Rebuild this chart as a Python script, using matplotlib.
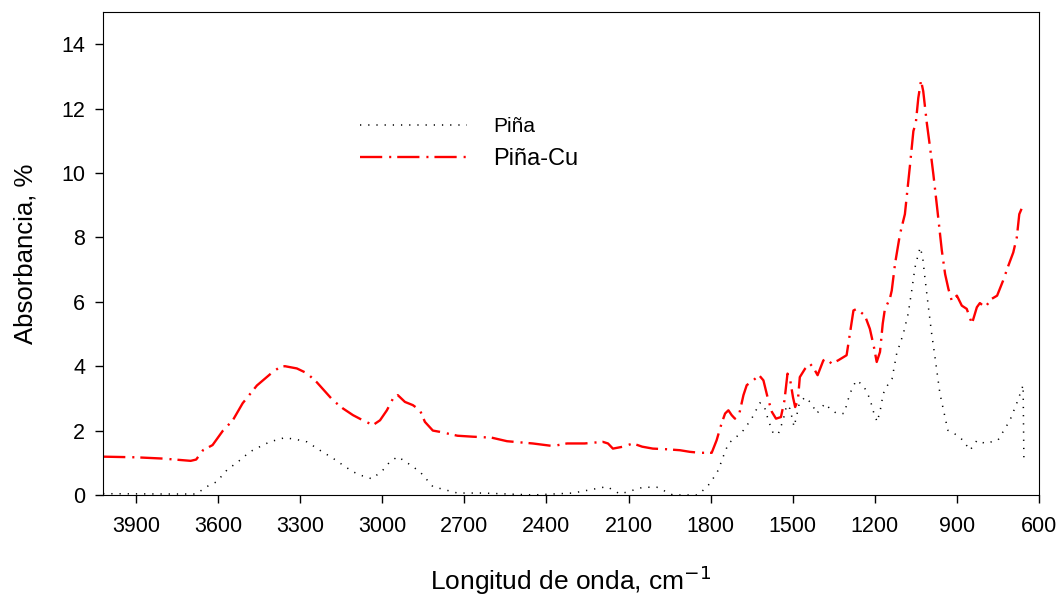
import matplotlib.pyplot as plt
import numpy as np

plt.rcParams['font.family'] = ['Liberation Sans', 'DejaVu Sans']
plt.rcParams['lines.scale_dashes'] = False

# FTIR spectra, wavenumber (cm-1) vs absorbance
wn_cu = [4020, 3900, 3800, 3700, 3680, 3655, 3620, 3582, 3546, 3510, 3458, 3436,
         3400, 3374, 3356, 3312, 3275, 3239, 3180, 3144, 3107, 3071, 3034, 3008,
         2983, 2961, 2943, 2917, 2888, 2862, 2844, 2815, 2789, 2725, 2669, 2600,
         2544, 2450, 2376, 2325, 2260, 2194, 2175, 2157, 2120, 2084, 2050, 2011,
         1960, 1912, 1876, 1839, 1796, 1778, 1760, 1747, 1735, 1723, 1711, 1695,
         1680, 1668, 1644, 1623, 1607, 1592, 1576, 1561, 1543, 1530, 1519, 1509,
         1499, 1491, 1481, 1474, 1455, 1437, 1422, 1409, 1388, 1376, 1358, 1334,
         1303, 1278, 1266, 1236, 1218, 1203, 1193, 1181, 1171, 1163, 1145, 1138,
         1126, 1108, 1090, 1071, 1059, 1050, 1041, 1031, 1023, 1010, 998, 986,
         971, 955, 943, 931, 919, 900, 882, 864, 845, 827, 816, 797, 773, 753,
         731, 712, 694, 681, 672, 659, 655]
abs_cu = [1.19, 1.17, 1.13, 1.06, 1.10, 1.39, 1.55, 2.00, 2.32, 2.85, 3.40, 3.56,
          3.82, 3.97, 4.00, 3.93, 3.78, 3.50, 2.94, 2.69, 2.48, 2.32, 2.17, 2.32,
          2.63, 2.99, 3.10, 2.89, 2.79, 2.63, 2.27, 2.00, 1.96, 1.84, 1.81, 1.78,
          1.67, 1.60, 1.52, 1.60, 1.60, 1.65, 1.60, 1.44, 1.50, 1.60, 1.50, 1.44,
          1.42, 1.39, 1.34, 1.31, 1.31, 1.70, 2.22, 2.53, 2.63, 2.48, 2.37, 2.53,
          3.10, 3.41, 3.56, 3.72, 3.56, 3.04, 2.58, 2.37, 2.42, 2.94, 3.77, 3.56,
          3.04, 2.73, 2.94, 3.66, 3.92, 4.08, 3.92, 3.72, 4.18, 4.23, 4.08, 4.18,
          4.34, 5.73, 5.78, 5.57, 5.16, 4.59, 4.13, 4.44, 5.32, 5.78, 6.09, 6.35,
          7.18, 8.10, 8.72, 10.27, 11.30, 11.56, 12.33, 12.87, 12.54, 11.56, 10.79,
          9.96, 8.83, 7.59, 6.86, 6.40, 6.04, 6.19, 5.88, 5.78, 5.32, 5.83, 5.96,
          5.83, 6.09, 6.19, 6.66, 7.12, 7.53, 8.00, 8.72, 8.98, 9.05]

wn_pina = [4020, 3800, 3680, 3641, 3605, 3568, 3520, 3484, 3447, 3411, 3356, 3312,
           3275, 3228, 3180, 3144, 3107, 3071, 3037, 2998, 2972, 2943, 2900, 2862,
           2815, 2725, 2632, 2449, 2303, 2179, 2131, 2047, 1996, 1938, 1850, 1839,
           1802, 1772, 1754, 1735, 1705, 1680, 1650, 1620, 1605, 1589, 1571, 1553,
           1535, 1522, 1510, 1495, 1485, 1476, 1455, 1431, 1412, 1382, 1364, 1339,
           1312, 1291, 1268, 1242, 1218, 1203, 1191, 1179, 1169, 1147, 1137, 1120,
           1096, 1078, 1065, 1053, 1041, 1034, 1025, 1017, 1004, 992, 980, 962,
           933, 900, 878, 852, 826, 797, 750, 706, 677, 658, 655]
abs_pina = [0.04, 0.03, 0.03, 0.26, 0.41, 0.77, 1.08, 1.34, 1.50, 1.65, 1.78, 1.72,
            1.65, 1.39, 1.14, 0.93, 0.72, 0.59, 0.50, 0.77, 1.03, 1.19, 0.95, 0.72,
            0.26, 0.06, 0.06, 0.00, 0.06, 0.26, 0.03, 0.24, 0.24, 0.00, 0.00, 0.05,
            0.36, 0.77, 1.19, 1.60, 1.81, 2.01, 2.37, 2.86, 2.79, 2.32, 1.91, 1.89,
            2.32, 2.79, 2.68, 2.12, 2.48, 2.84, 3.04, 2.84, 2.53, 2.84, 2.68, 2.53,
            2.53, 3.15, 3.56, 3.41, 2.99, 2.53, 2.27, 2.68, 3.15, 3.51, 3.61, 4.39,
            5.00, 5.63, 6.35, 7.07, 7.48, 7.69, 7.38, 6.76, 5.83, 5.00, 4.28, 3.15,
            2.01, 1.86, 1.70, 1.39, 1.70, 1.60, 1.70, 2.32, 2.94, 3.41, 0.98]

fig = plt.figure(figsize=(10.63, 5.96), dpi=100)
ax = fig.add_axes([0.097, 0.1695, 0.8804, 0.8104])

ax.plot(wn_pina, abs_pina, color='black', lw=1.1, linestyle=(0, (0.9, 5.0)),
        label='Piña')
ax.plot(wn_cu, abs_cu, color='red', lw=1.7, linestyle=(0, (16, 5, 1.5, 4.3)),
        label='Piña-Cu')

ax.set_xlim(4020, 600)
ax.set_ylim(0, 15)
ax.set_xticks(np.arange(3900, 599, -300))
ax.set_yticks(np.arange(0, 15, 2))
ax.tick_params(direction='out', length=6, width=1, labelsize=15.5)
ax.tick_params(axis='x', pad=9)
ax.tick_params(axis='y', pad=7)

ax.set_xlabel('Longitud de onda, cm$^{-1}$', fontsize=19, labelpad=19)
ax.set_ylabel('Absorbancia, %', fontsize=18.5, labelpad=17)

leg = ax.legend(loc='upper left', bbox_to_anchor=(0.2746, 0.782), frameon=False,
                fontsize=15, handlelength=5.14, handletextpad=1.25,
                borderpad=0, borderaxespad=0, labelspacing=0.55)
leg.get_texts()[1].set_fontsize(17)

fig.savefig('out.png', dpi=100)
